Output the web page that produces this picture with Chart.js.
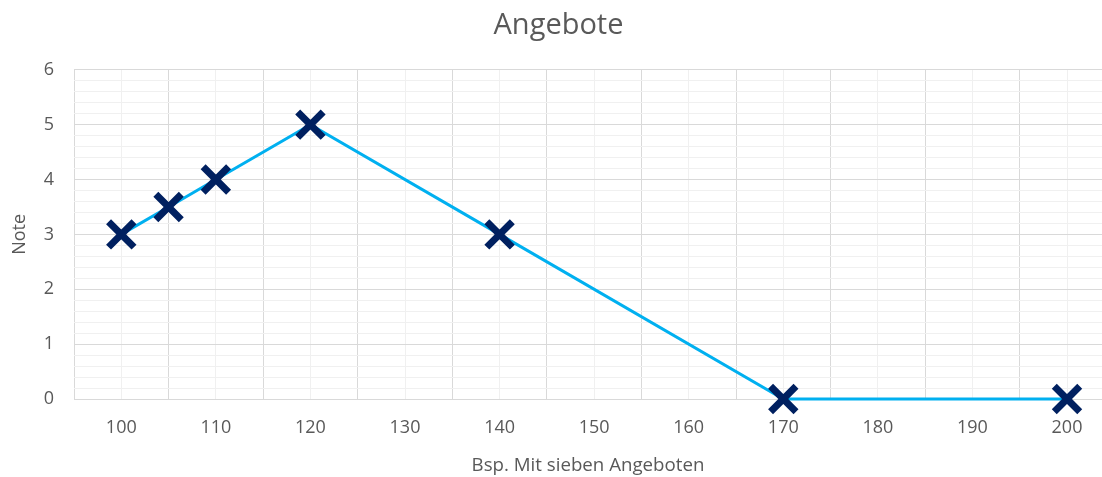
<!DOCTYPE html>
<html>
<head>
<meta charset="utf-8">
<script src="https://cdn.jsdelivr.net/npm/chart.js@4/dist/chart.umd.min.js"></script>
<style>
  html, body { margin: 0; padding: 0; background: #ffffff; overflow: hidden; }
  #wrap { width: 1127px; height: 477px; position: relative; }
</style>
</head>
<body>
<div id="wrap"><canvas id="c"></canvas></div>
<script>
const xValues = [100, 105, 110, 120, 140, 170, 200];
const yValues = [3, 3.5, 4, 5, 3, 0, 0];
const xTickValues = [95, 100, 105, 110, 115, 120, 125, 130, 135, 140, 145, 150, 155, 160, 165, 170, 175, 180, 185, 190, 195, 200];
const yTickValues = [0, 0.2, 0.4, 0.6, 0.8, 1, 1.2, 1.4, 1.6, 1.8, 2, 2.2, 2.4, 2.6, 2.8, 3, 3.2, 3.4, 3.6, 3.8, 4, 4.2, 4.4, 4.6, 4.8, 5, 5.2, 5.4, 5.6, 5.8, 6];
const titleText = 'Angebote';
const xTitle = 'Bsp. Mit sieben Angeboten';
const yTitle = 'Note';

const MAJOR = '#d9d9d9';
const MINOR = '#f0f0f0';
const TEXT = '#595959';
const FONT = "'Open Sans', 'Noto Sans', sans-serif";

const shiftTitle = {
  id: 'shiftTitle',
  afterLayout(chart) {
    const t = chart.titleBlock;
    if (t) { t.left -= 5; t.right -= 5; }
  }
};

new Chart(document.getElementById('c'), {
  type: 'line',
  plugins: [shiftTitle],
  data: {
    datasets: [{
      data: xValues.map((x, i) => ({ x: x, y: yValues[i] })),
      borderColor: '#00b0f0',
      borderWidth: 3,
      pointStyle: 'crossRot',
      pointRadius: 18,
      pointHoverRadius: 18,
      pointBorderWidth: 7,
      pointBorderColor: '#002060',
      pointBackgroundColor: '#002060',
      clip: false,
      tension: 0
    }]
  },
  options: {
    responsive: true,
    maintainAspectRatio: false,
    animation: false,
    layout: { padding: 0 },
    plugins: {
      legend: { display: false },
      tooltip: { enabled: false },
      title: {
        display: true,
        text: titleText,
        color: TEXT,
        font: { family: FONT, size: 29, weight: 'normal' },
        padding: { top: 8, bottom: 27 }
      }
    },
    scales: {
      x: {
        type: 'linear',
        min: 95,
        max: 203.7,
        afterBuildTicks: s => { s.ticks = xTickValues.map(v => ({ value: v })); },
        afterFit: s => { s.height = 78; s.paddingLeft = 0; s.paddingRight = 0; },
        ticks: {
          autoSkip: false,
          maxRotation: 0,
          padding: 18,
          color: TEXT,
          font: { family: FONT, size: 18 },
          callback: v => ((v - 100) % 10 === 0 ? String(v) : '')
        },
        grid: {
          drawTicks: false,
          lineWidth: 1,
          color: ctx => (ctx.tick && (ctx.tick.value - 95) % 10 === 0 ? MAJOR : MINOR)
        },
        border: { display: false },
        title: {
          display: true,
          text: xTitle,
          color: TEXT,
          font: { family: FONT, size: 18.7 },
          padding: { top: 0, bottom: 0 }
        }
      },
      y: {
        type: 'linear',
        min: 0,
        max: 6,
        afterBuildTicks: s => { s.ticks = yTickValues.map(v => ({ value: v })); },
        afterFit: s => { s.width = 74; s.paddingTop = 0; s.paddingBottom = 0; },
        ticks: {
          autoSkip: false,
          padding: 20,
          color: TEXT,
          font: { family: FONT, size: 18 },
          callback: v => (Math.abs(v - Math.round(v)) < 1e-6 ? String(Math.round(v)) : '')
        },
        grid: {
          drawTicks: false,
          lineWidth: 1,
          color: ctx => (ctx.tick && Math.abs(ctx.tick.value - Math.round(ctx.tick.value)) < 1e-6 ? MAJOR : MINOR)
        },
        border: { display: false },
        title: {
          display: true,
          text: yTitle,
          color: TEXT,
          font: { family: FONT, size: 18 },
          padding: { top: 9, bottom: 0 }
        }
      }
    }
  }
});
</script>
</body>
</html>
